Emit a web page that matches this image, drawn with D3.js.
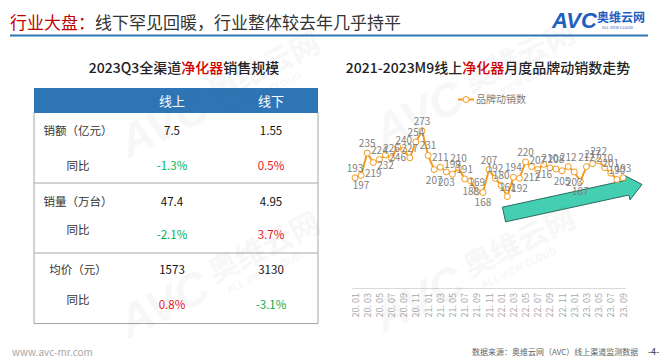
<!DOCTYPE html>
<html><head><meta charset="utf-8">
<script src="https://cdn.jsdelivr.net/npm/d3@7"></script>
<style>body{margin:0;background:#fff}svg{display:block}</style>
</head><body>
<svg id="c" width="663" height="364"></svg>
<script>
// ---------- data ----------
const months = ["20. 01","20. 02","20. 03","20. 04","20. 05","20. 06","20. 07","20. 08","20. 09","20. 10","20. 11","20. 12",
  "21. 01","21. 02","21. 03","21. 04","21. 05","21. 06","21. 07","21. 08","21. 09","21. 10","21. 11","21. 12",
  "22. 01","22. 02","22. 03","22. 04","22. 05","22. 06","22. 07","22. 08","22. 09","22. 10","22. 11","22. 12",
  "23. 01","23. 02","23. 03","23. 04","23. 05","23. 06","23. 07","23. 08","23. 09"];
const tickLabels = ["20. 01","20. 03","20. 05","20. 07","20. 09","20. 11","21. 01","21. 03","21. 05","21. 07","21. 09","21. 11",
  "22. 01","22. 03","22. 05","22. 07","22. 09","22. 11","23. 01","23. 03","23. 05","23. 07","23. 09"];
const brandCounts = [193,197,235,219,224,232,226,246,240,227,254,273,231,207,211,203,199,210,191,188,169,168,
  207,192,180,161,194,192,220,212,207,216,210,208,205,212,203,187,212,217,222,210,201,190,193];
const seriesName = "品牌动销数";
const tableColumns = ["线上","线下"];
const tableRowLabels = ["销额（亿元）","同比","销量（万台）","同比","均价（元）","同比"];
const onlineValues = ["7.5","-1.3%","47.4","-2.1%","1573","0.8%"];
const offlineValues = ["1.55","0.5%","4.95","3.7%","3130","-3.1%"];

// ---------- drawing ----------
const svg = d3.select("#c");
const FONT = "'Noto Sans CJK SC','Noto Sans',sans-serif";
svg.attr("font-family", FONT);

// page title
const t = svg.append("text").attr("x",10).attr("y",29).attr("font-size",17);
t.append("tspan").attr("fill","#C00000").text("行业大盘：");
t.append("tspan").attr("fill","#333").text("线下罕见回暖，行业整体较去年几乎持平");
svg.append("line").attr("x1",10).attr("x2",648).attr("y1",35.5).attr("y2",35.5)
  .attr("stroke","#2E75B6").attr("stroke-width",2);
// logo
svg.append("text").attr("x",552).attr("y",28).attr("font-size",22).attr("font-weight","bold")
  .attr("font-style","italic").attr("fill","#1F5FBF").attr("font-family","'Liberation Sans',sans-serif").text("AVC");
svg.append("text").attr("x",597).attr("y",22).attr("font-size",12).attr("font-weight","bold")
  .attr("fill","#1F5FBF").text("奥维云网");
svg.append("text").attr("x",602).attr("y",28.5).attr("font-size",4).attr("fill","#1F5FBF").text("ALL VIEW CLOUD");

// ----- left table -----
const tblTitle = svg.append("text").attr("x",184).attr("y",73).attr("text-anchor","middle").attr("font-size",14)
  .attr("font-weight",500).attr("fill","#222");
tblTitle.append("tspan").text("2023Q3全渠道");
tblTitle.append("tspan").attr("fill","#D00000").text("净化器");
tblTitle.append("tspan").text("销售规模");

const tx0 = 34, tx1 = 318;
svg.append("rect").attr("x",tx0).attr("y",88).attr("width",tx1-tx0).attr("height",25).attr("fill","#2E75B6");
const colX = d3.scalePoint().domain(tableColumns).range([172,271]);
tableColumns.forEach(c => svg.append("text").attr("x",colX(c)).attr("y",105.5).attr("text-anchor","middle")
  .attr("font-size",13).attr("fill","#fff").text(c));
const borderC = "#A6A6A6";
svg.append("line").attr("x1",tx0).attr("x2",tx0).attr("y1",113).attr("y2",323.5).attr("stroke",borderC);
svg.append("line").attr("x1",tx1).attr("x2",tx1).attr("y1",113).attr("y2",323.5).attr("stroke",borderC);
[183,253,323.5].forEach(y => svg.append("line").attr("x1",tx0).attr("x2",tx1).attr("y1",y).attr("y2",y).attr("stroke",borderC));

const labelY = [135,170,206,234,274,304];
const valueY = [135,170,206,239,274,309];
tableRowLabels.forEach((l,i) => {
  svg.append("text").attr("x",78).attr("y",labelY[i]).attr("text-anchor","middle").attr("font-size",11.5)
    .attr("fill","#333").text(l);
});
function valColor(v, isPct){ if(!isPct) return "#111"; return v.startsWith("-") ? "#00B050" : "#E8141B"; }
[onlineValues, offlineValues].forEach((vals, ci) => {
  vals.forEach((v,i) => {
    const pct = v.endsWith("%");
    svg.append("text").attr("x",colX(tableColumns[ci])).attr("y",valueY[i]).attr("text-anchor","middle")
      .attr("font-size",11.5).attr("fill",valColor(v,pct)).text(v);
  });
});

// ----- right chart -----
const ct = svg.append("text").attr("x",488).attr("y",73).attr("text-anchor","middle").attr("font-size",14)
  .attr("font-weight",500).attr("fill","#222");
ct.append("tspan").text("2021-2023M9线上");
ct.append("tspan").attr("fill","#D00000").text("净化器");
ct.append("tspan").text("月度品牌动销数走势");

const x = d3.scalePoint().domain(months).range([355,623]);
const y = d3.scaleLinear().domain([0,300]).range([291,115]);
const lineColor = "#F39A1E";

// axis
const axisG = svg.append("g").attr("transform","translate(0,288)")
  .call(d3.axisBottom(x).tickValues(tickLabels).tickSize(0).tickPadding(0));
axisG.select(".domain").attr("d","M352,0.5H626").attr("stroke","#D9D9D9");
axisG.selectAll("text").attr("font-size",9).attr("fill","#A6A6A6").attr("font-family",FONT)
  .attr("text-anchor","end").attr("dy",null).attr("y",0)
  .attr("transform","translate(3,5) rotate(-90)");

// arrow
(function(){
  const sx=504, sy=214.5, ex=642, ey=184.5;
  const L = Math.hypot(ex-sx, ey-sy), ux=(ex-sx)/L, uy=(ey-sy)/L, nx=-uy, ny=ux;
  const hw=7.5, hh=12.5, hl=15;
  const bx=ex-ux*hl, by=ey-uy*hl;
  const pts=[[sx+nx*hw,sy+ny*hw],[bx+nx*hw,by+ny*hw],[bx+nx*hh,by+ny*hh],[ex,ey],
             [bx-nx*hh,by-ny*hh],[bx-nx*hw,by-ny*hw],[sx-nx*hw,sy-ny*hw]];
  svg.append("polygon").attr("points",pts.map(p=>p.join(",")).join(" "))
    .attr("fill","#45CFB2").attr("stroke","#2A6B5E").attr("stroke-width",1);
})();

// line
svg.append("path").datum(brandCounts)
  .attr("d", d3.line().x((d,i)=>x(months[i])).y(d=>y(d)))
  .attr("fill","none").attr("stroke",lineColor).attr("stroke-width",2);
svg.selectAll("circle.pt").data(brandCounts).join("circle").attr("class","pt")
  .attr("cx",(d,i)=>x(months[i])).attr("cy",d=>y(d)).attr("r",3)
  .attr("fill","#fff").attr("stroke",lineColor).attr("stroke-width",1);

// data labels
const below = new Set([1,3,5,7,13,15,19,21,27,29,31,34,36,37]);
svg.selectAll("text.dl").data(brandCounts).join("text").attr("class","dl")
  .attr("x",(d,i)=>x(months[i])).attr("y",(d,i)=> below.has(i) ? y(d)+14 : y(d)-6)
  .attr("text-anchor","middle").attr("font-size",10).attr("fill","#7F7F7F").text(d=>d);

// legend
svg.append("line").attr("x1",458).attr("x2",474).attr("y1",99.5).attr("y2",99.5).attr("stroke",lineColor).attr("stroke-width",2);
svg.append("circle").attr("cx",466).attr("cy",99.5).attr("r",3).attr("fill","#fff").attr("stroke",lineColor);
svg.append("text").attr("x",476).attr("y",103).attr("font-size",10).attr("fill","#808080").text(seriesName);

// footer
svg.append("text").attr("x",12).attr("y",356).attr("font-size",10).attr("fill","#A6A6A6").text("www.avc-mr.com");
svg.append("text").attr("x",472).attr("y",355).attr("font-size",8).attr("fill","#666").text("数据来源：奥维云网（AVC）线上渠道监测数据");
svg.append("text").attr("x",648).attr("y",355).attr("font-size",9).attr("fill","#333").text("-4-");

// watermarks (faint)
[[205,110],[460,100],[205,290],[460,285]].forEach(([cx,cy]) => {
  const g = svg.append("g").attr("transform",`translate(${cx},${cy}) rotate(-26)`).attr("opacity",0.045).attr("fill","#555");
  g.append("text").attr("x",-90).attr("y",10).attr("font-size",46).attr("font-weight","bold").attr("font-style","italic")
    .attr("font-family","'Liberation Sans',sans-serif").text("AVC");
  g.append("text").attr("x",12).attr("y",-2).attr("font-size",30).attr("font-weight","bold").text("奥维云网");
  g.append("text").attr("x",20).attr("y",14).attr("font-size",10).attr("font-weight","bold").text("ALL VIEW CLOUD");
});
</script>
</body></html>
